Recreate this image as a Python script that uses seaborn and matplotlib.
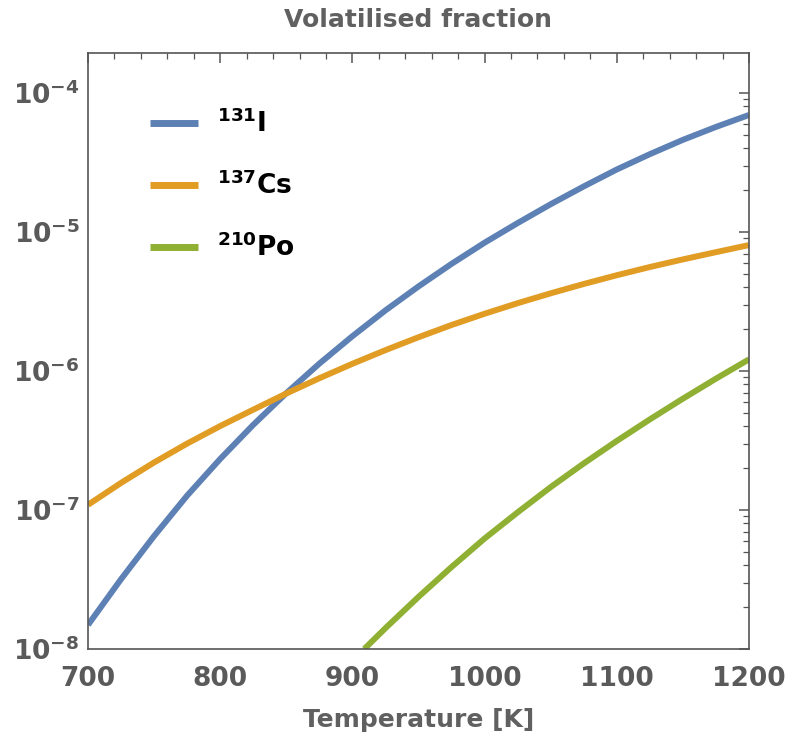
import numpy as np
import pandas as pd
import matplotlib
matplotlib.use("Agg")
import matplotlib.pyplot as plt
import matplotlib.ticker as mticker
import seaborn as sns

# ---- data ----
temps = [700, 725, 750, 775, 800, 825, 850, 875, 900, 925, 950, 975, 1000,
         1025, 1050, 1075, 1100, 1125, 1150, 1175, 1200]
iodine = [1.49e-8, 3.18e-8, 6.50e-8, 1.27e-7, 2.33e-7, 4.10e-7, 6.93e-7, 1.13e-6,
          1.78e-6, 2.73e-6, 4.06e-6, 5.90e-6, 8.38e-6, 1.16e-5, 1.585e-5, 2.128e-5,
          2.818e-5, 3.631e-5, 4.603e-5, 5.70e-5, 6.95e-5]
cesium = [1.09e-7, 1.567e-7, 2.198e-7, 3.006e-7, 4.018e-7, 5.27e-7, 6.89e-7, 8.87e-7,
          1.127e-6, 1.413e-6, 1.750e-6, 2.143e-6, 2.582e-6, 3.076e-6, 3.622e-6,
          4.227e-6, 4.887e-6, 5.598e-6, 6.353e-6, 7.161e-6, 8.054e-6]
temps_po = [909, 925, 950, 975, 1000, 1025, 1050, 1075, 1100, 1125, 1150, 1175, 1200]
polonium = [1.0e-8, 1.413e-8, 2.371e-8, 3.89e-8, 6.237e-8, 9.62e-8, 1.462e-7, 2.163e-7,
            3.141e-7, 4.487e-7, 6.324e-7, 8.81e-7, 1.213e-6]

labels = [r"$^{131}$I", r"$^{137}$Cs", r"$^{210}$Po"]
colors = ["#5E81B5", "#E19C24", "#8FB032"]
x_ticks = [700, 800, 900, 1000, 1100, 1200]
y_ticks = [1e-8, 1e-7, 1e-6, 1e-5, 1e-4]
title = "Volatilised fraction"
xlabel = "Temperature [K]"

df = pd.concat([
    pd.DataFrame({"T": temps, "f": iodine, "iso": labels[0]}),
    pd.DataFrame({"T": temps, "f": cesium, "iso": labels[1]}),
    pd.DataFrame({"T": temps_po, "f": polonium, "iso": labels[2]}),
])

sns.set_theme(style="white")
plt.rcParams["mathtext.default"] = "bf"
plt.rcParams["font.family"] = ["DejaVu Sans"]

fig = plt.figure(figsize=(7.92, 7.38), dpi=100)
ax = fig.add_axes([88/792, 1-649/738, (749-88)/792, (649-53)/738])

sns.lineplot(data=df, x="T", y="f", hue="iso", palette=colors, linewidth=4.3,
             ax=ax, legend=False, sort=True)
for ln in ax.get_lines():
    ln.set_solid_capstyle("butt")
    ln.set_solid_joinstyle("round")

ax.set_yscale("log")
ax.set_xlim(700, 1200)
ax.set_ylim(1e-8, 1.94e-4)

gray = "#555555"
for s in ax.spines.values():
    s.set_color(gray)
    s.set_linewidth(1.2)

ax.set_xticks(x_ticks)
ax.xaxis.set_minor_locator(mticker.MultipleLocator(20))
ax.set_yticks(y_ticks)
ax.yaxis.set_minor_locator(mticker.LogLocator(base=10, subs=np.arange(2, 10)))
ax.yaxis.set_minor_formatter(mticker.NullFormatter())
ax.yaxis.set_major_formatter(mticker.FuncFormatter(
    lambda v, p: r"$10^{%d}$" % int(round(np.log10(v)))))

ax.tick_params(which="both", direction="in", top=True, right=True,
               color=gray, labelcolor="#5a5a5a")
ax.tick_params(which="major", length=7, width=1.1, labelsize=19)
ax.tick_params(which="minor", length=4, width=0.9)
ax.tick_params(axis="x", which="major", pad=12)
ax.tick_params(axis="y", which="major", pad=6)
for lab in ax.get_xticklabels() + ax.get_yticklabels():
    lab.set_fontweight("bold")

ax.set_xlabel(xlabel, fontsize=18, fontweight="bold", color="#606060", labelpad=12)
ax.set_ylabel("")
ax.set_title(title, fontsize=18, fontweight="bold", color="#606060", pad=19)

handles = [plt.Line2D([], [], color=c, linewidth=5, solid_capstyle="butt") for c in colors]
leg = ax.legend(handles, labels, loc="upper left", bbox_to_anchor=(0.058, 0.945),
                frameon=False, handlelength=1.8, handletextpad=0.75,
                labelspacing=1.27, prop={"size": 19, "weight": "bold"})
for t in leg.get_texts():
    t.set_color("black")

fig.savefig("out.png", dpi=100, facecolor="white")
